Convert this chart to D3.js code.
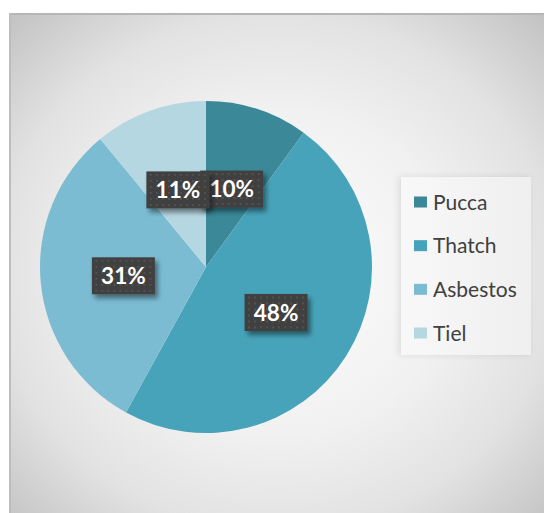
<!DOCTYPE html>
<html>
<head>
<meta charset="utf-8">
<script src="https://cdn.jsdelivr.net/npm/d3@7"></script>
<style>
  html, body { margin: 0; padding: 0; background: #ffffff; }
  svg { display: block; }
</style>
</head>
<body>
<svg id="chart" width="544" height="513"></svg>
<script>
// Roof material shares
const categories = ["Pucca", "Thatch", "Asbestos", "Tiel"];
const shares = [10, 48, 31, 11];
const sliceColors = ["#3a8898", "#47a3ba", "#7bbcd2", "#b5d7e2"];

const svg = d3.select("#chart");
const defs = svg.append("defs");

// Chart area background: soft radial gray gradient
const bg = defs.append("radialGradient").attr("id", "bgGrad")
  .attr("cx", "50%").attr("cy", "52%").attr("r", "72%");
bg.append("stop").attr("offset", "0%").attr("stop-color", "#fdfdfd");
bg.append("stop").attr("offset", "45%").attr("stop-color", "#f1f1f1");
bg.append("stop").attr("offset", "72%").attr("stop-color", "#e2e2e2");
bg.append("stop").attr("offset", "100%").attr("stop-color", "#c2c2c2");

// Dotted fill for the value labels
const pat = defs.append("pattern").attr("id", "dots")
  .attr("patternUnits", "userSpaceOnUse").attr("width", 6).attr("height", 6);
pat.append("rect").attr("width", 6).attr("height", 6).attr("fill", "#3f3f3f");
pat.append("rect").attr("x", 2).attr("y", 2).attr("width", 2).attr("height", 2).attr("fill", "#525252");

// Drop shadow for the labels
const sh = defs.append("filter").attr("id", "labelShadow")
  .attr("x", "-30%").attr("y", "-30%").attr("width", "170%").attr("height", "180%");
sh.append("feDropShadow").attr("dx", 3).attr("dy", 4).attr("stdDeviation", 2.5)
  .attr("flood-color", "#000").attr("flood-opacity", 0.45);

const legShadow = defs.append("filter").attr("id", "legendShadow")
  .attr("x", "-20%").attr("y", "-10%").attr("width", "140%").attr("height", "120%");
legShadow.append("feDropShadow").attr("dx", -2).attr("dy", 0).attr("stdDeviation", 3)
  .attr("flood-color", "#000").attr("flood-opacity", 0.1);

const legGrad = defs.append("linearGradient").attr("id", "legGrad")
  .attr("x1", "0%").attr("x2", "100%").attr("y1", "0%").attr("y2", "0%");
legGrad.append("stop").attr("offset", "0%").attr("stop-color", "#f8f8f8");
legGrad.append("stop").attr("offset", "100%").attr("stop-color", "#efefef");

// Chart area
svg.append("rect").attr("x", 9).attr("y", 13).attr("width", 535).attr("height", 500)
  .attr("fill", "url(#bgGrad)");
svg.append("line").attr("x1", 9).attr("x2", 544).attr("y1", 14).attr("y2", 14)
  .attr("stroke", "#b6b6b6").attr("stroke-width", 2);
svg.append("line").attr("x1", 10).attr("x2", 10).attr("y1", 13).attr("y2", 513)
  .attr("stroke", "#bdbdbd").attr("stroke-width", 2);

// Pie
const cx = 206, cy = 267, radius = 166;
const data = categories.map((c, i) => ({ name: c, value: shares[i], color: sliceColors[i] }));
const pie = d3.pie().value(d => d.value).sort(null);
const arcs = pie(data);
const arc = d3.arc().innerRadius(0).outerRadius(radius);

const g = svg.append("g").attr("transform", `translate(${cx},${cy})`);
g.selectAll("path.slice").data(arcs).join("path")
  .attr("class", "slice")
  .attr("d", arc)
  .attr("fill", d => d.data.color);

// Value labels at half radius along each slice's mid-angle
const total = d3.sum(shares);
const lbl = g.selectAll("g.lbl").data(arcs).join("g")
  .attr("class", "lbl")
  .attr("transform", d => {
    const [x, y] = arc.centroid(d);
    return `translate(${x},${y + 1})`;
  });
const bw = 63, bh = 37;
lbl.append("rect")
  .attr("x", -bw / 2).attr("y", -bh / 2).attr("width", bw).attr("height", bh)
  .attr("fill", "url(#dots)")
  .attr("filter", "url(#labelShadow)");
lbl.append("text")
  .attr("text-anchor", "middle").attr("dy", "0.36em")
  .attr("font-family", "Lato, 'Open Sans', sans-serif")
  .attr("font-weight", "bold").attr("font-size", 22.5)
  .attr("fill", "#ffffff")
  .text(d => Math.round(d.data.value / total * 100) + "%");

// Legend
const legend = svg.append("g").attr("transform", "translate(401,177)");
legend.append("rect").attr("width", 130).attr("height", 178)
  .attr("fill", "url(#legGrad)").attr("filter", "url(#legendShadow)");
const rowY = d3.scalePoint().domain(categories).range([25, 156]);
const item = legend.selectAll("g.item").data(data).join("g")
  .attr("class", "item")
  .attr("transform", d => `translate(13,${rowY(d.name)})`);
item.append("rect").attr("x", 0).attr("y", -5.5).attr("width", 13).attr("height", 11)
  .attr("fill", d => d.color);
item.append("text").attr("x", 19).attr("dy", "0.36em")
  .attr("font-family", "Lato, 'Open Sans', sans-serif")
  .attr("font-size", 21).attr("fill", "#404040")
  .text(d => d.name);
</script>
</body>
</html>
